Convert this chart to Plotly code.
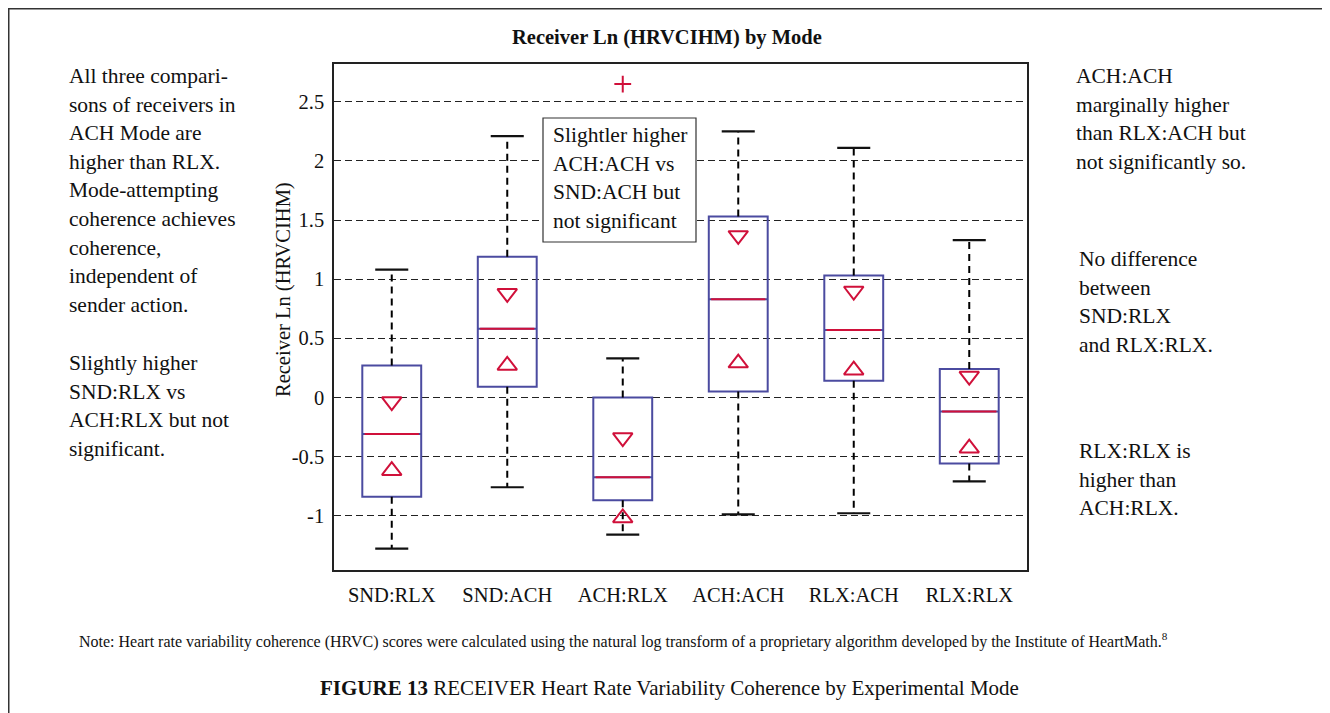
import plotly.graph_objects as go

# ---- data ----
categories = ["SND:RLX", "SND:ACH", "ACH:RLX", "ACH:ACH", "RLX:ACH", "RLX:RLX"]
q1 = [-0.84, 0.09, -0.87, 0.05, 0.14, -0.56]
median = [-0.31, 0.58, -0.675, 0.83, 0.57, -0.12]
q3 = [0.27, 1.19, 0.0, 1.53, 1.03, 0.24]
lower_whisker = [-1.28, -0.76, -1.16, -0.99, -0.98, -0.71]
upper_whisker = [1.08, 2.21, 0.33, 2.25, 2.11, 1.33]
upper_mark = [-0.035, 0.88, -0.34, 1.37, 0.90, 0.18]   # triangle-down markers
lower_mark = [-0.62, 0.27, -1.02, 0.29, 0.23, -0.43]   # triangle-up markers
outlier_cat = ["ACH:RLX"]
outlier_val = [2.65]
ytick_vals = [-1, -0.5, 0, 0.5, 1, 1.5, 2, 2.5]
ytick_text = ["-1", "-0.5", "0", "0.5", "1", "1.5", "2", "2.5"]

BLUE = "#4B4BA0"
RED = "#D0103A"
FONT = "Liberation Serif"
TXT = "#111111"

OFF = 8  # page body margin
W, H = 1322, 705
# plot area in reference page pixels
L, R, T, B = 334, 1027, 64, 570

def px(x):
    return (x - L) / (R - L)

def py(y):
    return (B - y) / (B - T)

idx = list(range(len(categories)))
BOXW = 0.51
CAPW = 0.143

fig = go.Figure()

fig.add_trace(go.Box(
    x=idx, q1=q1, median=median, q3=q3, lowerfence=q1, upperfence=q3,
    width=BOXW, whiskerwidth=0, fillcolor="rgba(0,0,0,0)",
    line=dict(color=BLUE, width=2), boxpoints=False, hoverinfo="skip",
    showlegend=False))

mx, my = [], []
for i in idx:
    mx += [i - BOXW / 2 + 0.02, i + BOXW / 2 - 0.02, None]
    my += [median[i], median[i], None]
fig.add_trace(go.Scatter(x=mx, y=my, mode="lines", line=dict(color=RED, width=2),
                         showlegend=False, hoverinfo="skip"))

wx, wy = [], []
for i in idx:
    wx += [i, i, None, i, i, None]
    wy += [q3[i], upper_whisker[i], None, q1[i], lower_whisker[i], None]
fig.add_trace(go.Scatter(x=wx, y=wy, mode="lines",
                         line=dict(color="black", width=2, dash="7px,5px"),
                         showlegend=False, hoverinfo="skip"))

cx, cy = [], []
for i in idx:
    cx += [i - CAPW, i + CAPW, None, i - CAPW, i + CAPW, None]
    cy += [upper_whisker[i], upper_whisker[i], None, lower_whisker[i], lower_whisker[i], None]
fig.add_trace(go.Scatter(x=cx, y=cy, mode="lines", line=dict(color="#111111", width=2.2),
                         showlegend=False, hoverinfo="skip"))

fig.add_trace(go.Scatter(x=idx, y=upper_mark, mode="markers",
                         marker=dict(symbol="triangle-down-open", size=17, color=RED,
                                     line=dict(color=RED, width=2)),
                         showlegend=False, hoverinfo="skip"))
fig.add_trace(go.Scatter(x=idx, y=lower_mark, mode="markers",
                         marker=dict(symbol="triangle-up-open", size=17, color=RED,
                                     line=dict(color=RED, width=2)),
                         showlegend=False, hoverinfo="skip"))

fig.add_trace(go.Scatter(x=[categories.index(c) for c in outlier_cat], y=outlier_val,
                         mode="markers",
                         marker=dict(symbol="cross-thin-open", size=12, color=RED,
                                     line=dict(color=RED, width=2)),
                         showlegend=False, hoverinfo="skip"))

annotations = []

def lines_block(lines, x_px, y0, dy, size=21.5):
    for k, t in enumerate(lines):
        annotations.append(dict(
            text=t, x=px(x_px), y=py(y0 + k * dy), xref="paper", yref="paper",
            xanchor="left", yanchor="middle", showarrow=False,
            font=dict(family=FONT, size=size, color=TXT)))

lines_block(["All three compari-", "sons of receivers in", "ACH Mode are",
             "higher than RLX.", "Mode-attempting", "coherence achieves",
             "coherence,", "independent of", "sender action."], 67, 76, 28.6)
lines_block(["Slightly higher", "SND:RLX vs", "ACH:RLX but not", "significant."],
            67, 363, 28.6)
lines_block(["ACH:ACH", "marginally higher", "than RLX:ACH but",
             "not significantly so."], 1074, 76, 28.6)
lines_block(["No difference", "between", "SND:RLX", "and RLX:RLX."], 1077, 259, 28.7)
lines_block(["RLX:RLX is", "higher than", "ACH:RLX."], 1077, 451, 28.7)
lines_block(["Slightler higher", "ACH:ACH vs", "SND:ACH but", "not significant"],
            551, 135, 28.7)

annotations.append(dict(text="<b>Receiver Ln (HRVCIHM) by Mode</b>", x=px(667), y=py(37),
                        xref="paper", yref="paper", showarrow=False,
                        xanchor="center", yanchor="middle",
                        font=dict(family=FONT, size=20.5, color=TXT)))
annotations.append(dict(text="Receiver Ln (HRVCIHM)", x=px(283), y=py(290),
                        xref="paper", yref="paper", showarrow=False, textangle=-90,
                        xanchor="center", yanchor="middle",
                        font=dict(family=FONT, size=20.5, color=TXT)))
annotations.append(dict(
    text="Note: Heart rate variability coherence (HRVC) scores were calculated using the natural log transform of a proprietary algorithm developed by the Institute of HeartMath.<sup>8</sup>",
    x=px(623), y=py(640), xref="paper", yref="paper", showarrow=False,
    xanchor="center", yanchor="middle",
    font=dict(family=FONT, size=16, color=TXT)))
annotations.append(dict(
    text="<b>FIGURE 13</b> RECEIVER Heart Rate Variability Coherence by Experimental Mode",
    x=px(669), y=py(688), xref="paper", yref="paper", showarrow=False,
    xanchor="center", yanchor="middle",
    font=dict(family=FONT, size=21, color=TXT)))

shapes = [
    dict(type="rect", xref="paper", yref="paper", x0=px(8.75), x1=px(1327.5),
         y0=py(740), y1=py(8.75),
         line=dict(color="#333333", width=1.5), fillcolor="rgba(0,0,0,0)", layer="below"),
    dict(type="rect", xref="paper", yref="paper", x0=px(543), x1=px(696), y0=py(242), y1=py(118),
         line=dict(color="#333333", width=1.2), fillcolor="white", layer="above"),
]

fig.update_layout(
    width=W, height=H,
    margin=dict(l=L - OFF, r=W - (R - OFF), t=T - OFF, b=H - (B - OFF), pad=0),
    paper_bgcolor="white", plot_bgcolor="white",
    annotations=annotations, shapes=shapes,
    font=dict(family=FONT, size=20, color=TXT),
    xaxis=dict(range=[-0.5, 5.5], tickmode="array", tickvals=idx, ticktext=categories,
               showgrid=False, zeroline=False, showline=True, linecolor="#222222",
               linewidth=1.5, mirror=True, ticks="outside", ticklen=6,
               tickcolor="rgba(0,0,0,0)", tickfont=dict(family=FONT, size=20.5)),
    yaxis=dict(range=[-1.46, 2.82], tickmode="array", tickvals=ytick_vals,
               ticktext=ytick_text, showgrid=True, gridcolor="#222222", gridwidth=1,
               griddash="7px,4px", zeroline=False, showline=True, linecolor="#222222",
               linewidth=1.5, mirror=True, ticks="outside", ticklen=4,
               tickcolor="rgba(0,0,0,0)", tickfont=dict(family=FONT, size=20.5)),
)

fig.write_html("out.html")
